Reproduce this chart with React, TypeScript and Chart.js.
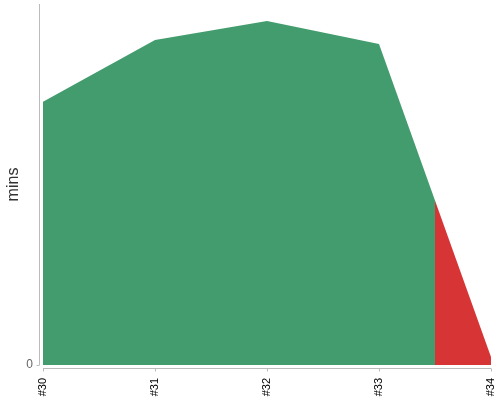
import { useEffect, useRef } from 'react';
import { Chart, registerables } from 'chart.js';

Chart.register(...registerables);

const labels = ['#30', '#31', '#32', '#33', '#34'];
const mins = [72.9, 90.0, 95.3, 88.9, 2.2];
const yMax = 100;
const splitAt = 3.5; // fill turns red after this point
const green = '#439c6e';
const red = '#d73535';
const axisGrey = '#bbbbbb';

// d3-style axes, drawn slightly away from the plot area
const offsetAxes = {
  id: 'offsetAxes',
  afterDraw(chart: Chart) {
    const { ctx, chartArea, scales } = chart;
    const { left, right, top, bottom } = chartArea;
    ctx.save();
    ctx.strokeStyle = axisGrey;
    ctx.lineWidth = 1;
    ctx.beginPath();
    ctx.moveTo(left - 3.5, top);
    ctx.lineTo(left - 3.5, bottom);
    ctx.moveTo(left - 6.5, scales.y.getPixelForValue(0) + 0.5);
    ctx.lineTo(left - 3.5, scales.y.getPixelForValue(0) + 0.5);
    ctx.moveTo(left, bottom + 3.5);
    ctx.lineTo(right, bottom + 3.5);
    labels.forEach((_, i) => {
      const x = Math.round(scales.x.getPixelForValue(i)) + 0.5;
      ctx.moveTo(x, bottom + 3.5);
      ctx.lineTo(x, bottom + 6.5);
    });
    ctx.stroke();
    ctx.restore();
  },
};

const noPad = (s: any) => {
  s.paddingLeft = 0;
  s.paddingRight = 0;
  s.paddingTop = 0;
  s.paddingBottom = 0;
};

export default function App() {
  const canvasRef = useRef<HTMLCanvasElement>(null);
  const chartRef = useRef<Chart | null>(null);

  useEffect(() => {
    if (!canvasRef.current) return;
    if (chartRef.current) chartRef.current.destroy();
    const ctx = canvasRef.current.getContext('2d');
    if (!ctx) return;

    chartRef.current = new Chart(ctx, {
      type: 'line',
      data: {
        labels,
        datasets: [
          {
            data: mins,
            fill: 'origin',
            borderWidth: 0,
            pointRadius: 0,
            tension: 0,
            backgroundColor: (c: any) => {
              const { chartArea, scales } = c.chart;
              if (!chartArea) return green;
              const xs = scales.x.getPixelForValue(splitAt);
              const p = (xs - chartArea.left) / (chartArea.right - chartArea.left);
              const g = c.chart.ctx.createLinearGradient(chartArea.left, 0, chartArea.right, 0);
              g.addColorStop(0, green);
              g.addColorStop(p, green);
              g.addColorStop(p, red);
              g.addColorStop(1, red);
              return g;
            },
          },
        ],
      },
      options: {
        responsive: true,
        maintainAspectRatio: false,
        animation: false,
        layout: { padding: { top: 4, right: 9, left: 0, bottom: 0 } },
        plugins: {
          legend: { display: false },
          tooltip: { enabled: false },
        },
        scales: {
          x: {
            grid: { display: false },
            border: { display: false },
            afterFit: (s: any) => { s.height = 35; noPad(s); },
            ticks: {
              minRotation: 90,
              maxRotation: 90,
              padding: 5,
              color: '#000',
              font: { size: 11, family: 'Liberation Sans' },
            },
          },
          y: {
            min: 0,
            max: yMax,
            grid: { display: false },
            border: { display: false },
            afterFit: (s: any) => { s.width = 43; noPad(s); },
            afterBuildTicks: (s: any) => { s.ticks = s.ticks.filter((t: any) => t.value === 0); },
            ticks: {
              padding: 2,
              color: '#666',
              font: { size: 12, family: 'Liberation Sans' },
            },
            title: {
              display: true,
              text: 'mins',
              color: '#333',
              padding: 4,
              font: { size: 16, family: 'Liberation Sans' },
            },
          },
        },
      },
      plugins: [offsetAxes],
    });

    return () => { chartRef.current?.destroy(); };
  }, []);

  return (
    <div style={{ position: 'fixed', left: 0, top: 0, width: 500, height: 400 }}>
      <canvas ref={canvasRef} />
    </div>
  );
}
